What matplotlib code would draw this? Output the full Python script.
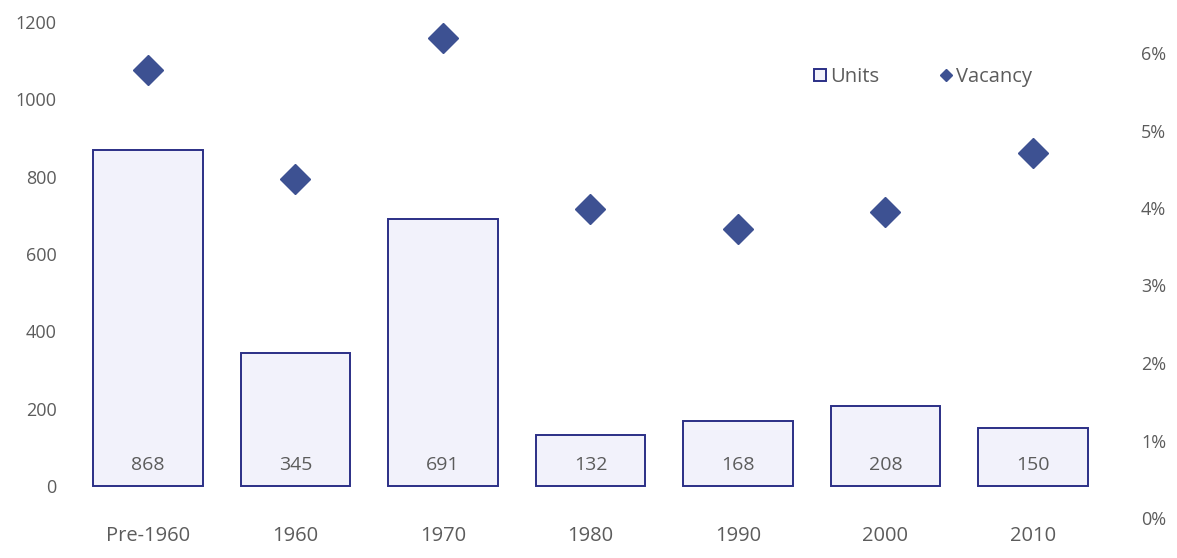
import matplotlib
matplotlib.use("Agg")
import matplotlib.pyplot as plt
from matplotlib.lines import Line2D
from matplotlib.patches import Patch

categories = ["Pre-1960", "1960", "1970", "1980", "1990", "2000", "2010"]
units = [868, 345, 691, 132, 168, 208, 150]
vacancy = [5.78, 4.37, 6.19, 3.99, 3.73, 3.95, 4.71]  # percent
left_ticks = [0, 200, 400, 600, 800, 1000, 1200]
right_ticks = [0, 1, 2, 3, 4, 5, 6]

plt.rcParams['font.family'] = ['Open Sans', 'DejaVu Sans']
text_color = "#5c5c5c"
navy = "#2b2f86"
diamond = "#3d5192"
fill = "#f2f2fb"

fig = plt.figure(figsize=(11.77, 5.58), dpi=100)
ax = fig.add_axes([62 / 1177, 1 - 518 / 558, (1130 - 62) / 1177, (518 - 22) / 558])
x = list(range(len(categories)))
ax.bar(x, units, width=0.74, color=fill, edgecolor=navy, linewidth=1.4)
for xi, v in zip(x, units):
    ax.text(xi, 55, str(v), ha="center", va="center", fontsize=14, color=text_color)
ax.set_yticks(left_ticks)
ax.set_xticks(x)
ax.set_xticklabels(categories)
ax.set_xlim(-0.583, 6.658)
ax.set_ylim(-82.8, 1200)
ax.tick_params(axis="both", length=0, labelcolor=text_color)
ax.tick_params(axis="y", pad=4, labelsize=13)
ax.tick_params(axis="x", pad=6, labelsize=14.5)
for s in ax.spines.values():
    s.set_visible(False)

ax2 = ax.twinx()
ax2.plot(x, vacancy, linestyle="none", marker="D", markersize=15, color=diamond)
ax2.set_yticks(right_ticks)
ax2.set_yticklabels([f"{t}%" for t in right_ticks])
ax2.set_ylim(0, 6.4)
ax2.tick_params(axis="y", length=0, labelsize=13, labelcolor=text_color, pad=8)
for s in ax2.spines.values():
    s.set_visible(False)

handles = [Patch(facecolor=fill, edgecolor=navy, linewidth=1.4),
           Line2D([], [], linestyle="none", marker="D", markersize=6, color=diamond)]
fig.legend(handles, ["Units", "Vacancy"], ncol=2, frameon=False,
           loc="center left", bbox_to_anchor=(800 / 1177, 1 - 77 / 558),
           fontsize=14.5, labelcolor=text_color, handlelength=0.6,
           handleheight=0.6, handletextpad=0.2, columnspacing=3.0,
           borderpad=0.2)

fig.savefig("out.png", dpi=100)
